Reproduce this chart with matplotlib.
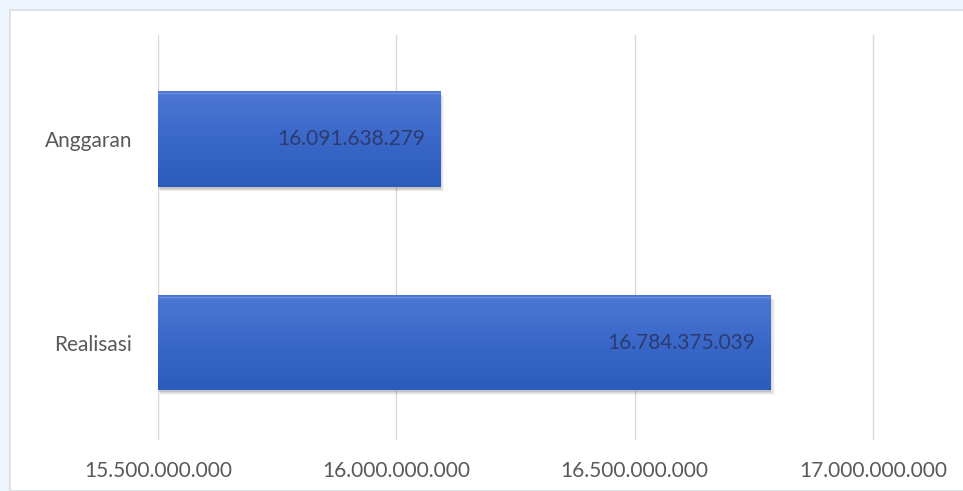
import numpy as np
import matplotlib.pyplot as plt
from matplotlib.colors import LinearSegmentedColormap
from matplotlib.patches import Rectangle

categories = ['Realisasi', 'Anggaran']
values = [16784375039, 16091638279]
xticks = [15500000000, 16000000000, 16500000000, 17000000000]

FONT = 'Lato'

def fmt(v):
    return f"{v:,.0f}".replace(',', '.')

fig = plt.figure(figsize=(9.63, 4.91), dpi=100, facecolor='#eef4fb')
# white chart area with faint border
fig.patches.append(Rectangle((10/963, 0), 1, 1 - 10/491, transform=fig.transFigure,
                             facecolor='white', edgecolor='#d9dde3', linewidth=1.2, zorder=-10))

x0 = 15500000000
x1 = 17000000000
pxw = (873 - 158) / (x1 - x0)
ax = fig.add_axes([158/963, 51/491, (880-158)/963, 405/491])
ax.set_facecolor('none')
ax.set_zorder(5)
h = 0.467

cmap = LinearSegmentedColormap.from_list('bar', ['#2b5bbd', '#3a68c9', '#4d77d4'])
grad = np.linspace(0, 1, 100).reshape(-1, 1)

for i, v in enumerate(values):
    # soft shadow
    for k, a in enumerate([0.10, 0.08, 0.06, 0.04]):
        off = (k + 1) * 1.3e6
        ax.add_patch(Rectangle((x0 + off, i - h/2 - 0.012 - k*0.004), v - x0 + off*0.8, h,
                               facecolor='#1a1a1a', alpha=a, edgecolor='none', zorder=2))
    bar = ax.barh(i, v - x0, left=x0, height=h, color='#3a68c9', zorder=3)[0]
    im = ax.imshow(grad, extent=[x0, v, i - h/2, i + h/2], cmap=cmap, aspect='auto',
                   origin='lower', zorder=4)
    im.set_clip_path(bar)
    ax.plot([x0, v], [i + h/2 - 0.008, i + h/2 - 0.008], color='#6d8fdc', lw=1, zorder=5)
    ax.text(v - 32000000, i, fmt(v), ha='right', va='center', fontsize=15,
            color='#2c3a6e', family=FONT, zorder=6)

ax.set_xlim(x0, x0 + (880 - 158) / pxw)
ax.set_ylim(-0.479, 1.511)
ax.set_yticks(range(len(categories)))
ax.set_yticklabels(categories)
ax.set_xticks(xticks)
ax.set_xticklabels([fmt(t) for t in xticks])
ax.tick_params(length=0, labelsize=15, labelcolor='#595959', pad=15)
ax.tick_params(axis='y', pad=18.5)
for lab in ax.get_xticklabels() + ax.get_yticklabels():
    lab.set_family(FONT)
ax.grid(axis='x', color='#d9d9d9', linewidth=1, zorder=0)
ax.set_axisbelow(True)
for s in ax.spines.values():
    s.set_visible(False)

fig.savefig('out.png', dpi=100, facecolor=fig.get_facecolor())
